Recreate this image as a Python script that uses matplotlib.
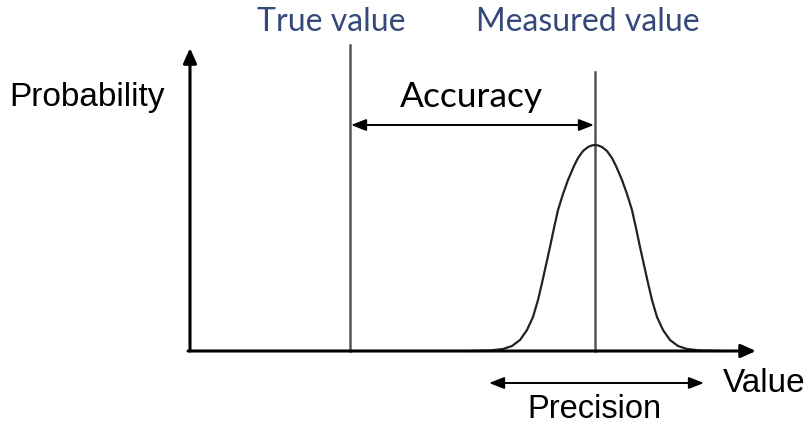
import numpy as np
import matplotlib.pyplot as plt

# positions (pixel units, y grows downward)
true_value = 350
measured_value = 595
baseline = 351

# curve points
curve_x = [470, 490, 503, 512, 520, 527, 533, 538, 542, 546, 550, 554, 558, 563, 568, 574,
           578, 583, 588, 592, 595, 598, 602, 607, 612, 616, 622, 627, 632, 636, 640, 644,
           648, 652, 657, 663, 670, 678, 687, 700, 720]
curve_y = [351, 350.5, 349, 346, 340, 330, 317, 300, 283, 265, 247, 228, 210, 194, 180, 166,
           158, 151, 147, 145.4, 145, 145.4, 147, 151, 158, 166, 180, 194, 210, 228, 247, 265,
           283, 300, 317, 330, 340, 346, 349, 350.5, 351]

fig = plt.figure(figsize=(8.07, 4.25), dpi=100)
ax = fig.add_axes([0, 0, 1, 1])
ax.set_xlim(0, 807)
ax.set_ylim(425, 0)
ax.axis('off')

# vertical markers
ax.plot([true_value, true_value], [45, baseline], color='#555555', lw=1.8)
ax.plot([measured_value, measured_value], [72, baseline], color='#555555', lw=1.8)

# gaussian
ax.plot(curve_x, curve_y, color='#222222', lw=1.6)

# axes with arrows
head = dict(arrowstyle='-|>,head_length=0.9,head_width=0.4', color='black', lw=2.2,
            shrinkA=0, shrinkB=0)
ax.annotate('', xy=(190, 48), xytext=(190, baseline), arrowprops=head)
ax.annotate('', xy=(756, baseline), xytext=(188, baseline), arrowprops=head)

# accuracy / precision arrows
dbl = dict(arrowstyle='<|-|>,head_length=0.9,head_width=0.35', color='black', lw=1.4,
           shrinkA=0, shrinkB=0)
ax.annotate('', xy=(true_value + 1, 125), xytext=(measured_value - 1, 125), arrowprops=dbl)
ax.annotate('', xy=(489, 383), xytext=(704, 383), arrowprops=dbl)

blue = '#34497a'
ax.text(331, 22, 'True value', color=blue, fontsize=23, family='Lato',
        ha='center', va='center')
ax.text(588, 22, 'Measured value', color=blue, fontsize=23, family='Lato',
        ha='center', va='center')
ax.text(471, 97, 'Accuracy', color='black', fontsize=25.5, family='Lato',
        ha='center', va='center')
ax.text(9, 97, 'Probability', fontsize=24, family='Liberation Sans', ha='left', va='center')
ax.text(723, 384, 'Value', fontsize=24, family='Liberation Sans', ha='left', va='center')
ax.text(594, 410, 'Precision', fontsize=23.5, family='Liberation Sans', ha='center', va='center')

fig.savefig('out.png', dpi=100)
